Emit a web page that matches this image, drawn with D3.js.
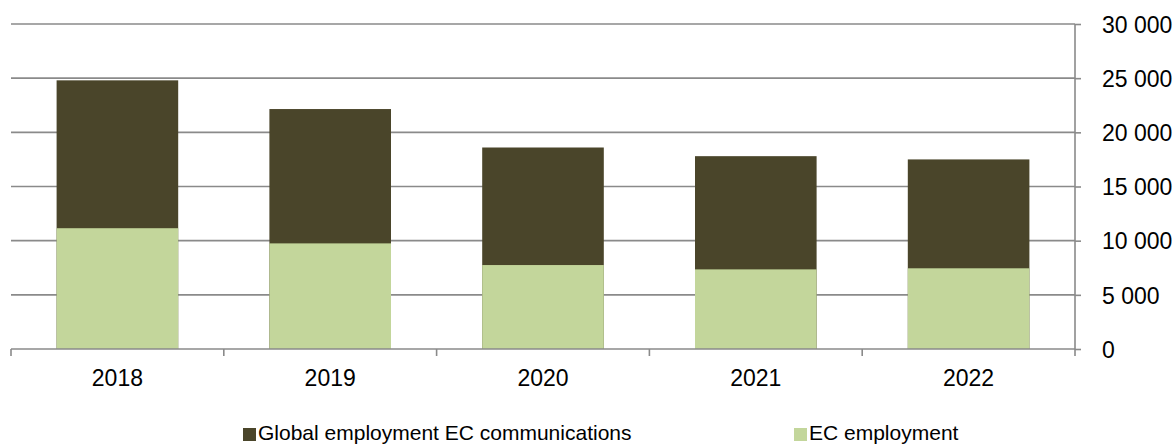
<!DOCTYPE html>
<html>
<head>
<meta charset="utf-8">
<script src="https://cdn.jsdelivr.net/npm/d3@7"></script>
<style>
  html, body { margin: 0; padding: 0; background: #fff; }
  svg { display: block; font-family: "Liberation Sans", Arial, sans-serif; }
</style>
</head>
<body>
<svg id="chart" width="1176" height="445"></svg>
<script>
// Employment figures per year
const years = ["2018", "2019", "2020", "2021", "2022"];
const globalEmployment = [24800, 22150, 18600, 17800, 17500];
const ecEmployment = [11150, 9750, 7750, 7350, 7450];
const yTicks = [0, 5000, 10000, 15000, 20000, 25000, 30000];
const seriesNames = ["Global employment EC communications", "EC employment"];
const seriesColors = ["#4A452A", "#C3D69B"];

(function draw() {
  const svg = d3.select("#chart");
  const plotLeft = 11, plotRight = 1075, plotTop = 24, plotBottom = 349;
  const gridColor = "#8a8a8a";

  const x = d3.scaleBand().domain(years).range([plotLeft, plotRight]).padding(0);
  const barW = x.bandwidth() / 1.75;
  const y = d3.scaleLinear().domain([0, 30000]).range([plotBottom, plotTop]);
  const fmt = v => d3.format(",")(v).replace(/,/g, " ");

  // Horizontal gridlines
  svg.append("g").selectAll("line").data(yTicks.filter(v => v > 0)).join("line")
    .attr("x1", plotLeft).attr("x2", plotRight)
    .attr("y1", d => y(d)).attr("y2", d => y(d))
    .attr("stroke", gridColor).attr("stroke-width", 1.6);

  // Bars: total drawn behind, EC share overlaid in front
  const rows = years.map((yr, i) => ({ yr, g: globalEmployment[i], ec: ecEmployment[i] }));
  svg.append("g").selectAll("rect").data(rows).join("rect")
    .attr("x", d => x(d.yr) + (x.bandwidth() - barW) / 2)
    .attr("width", barW)
    .attr("y", d => y(d.g))
    .attr("height", d => y(0) - y(d.g))
    .attr("fill", seriesColors[0]);
  svg.append("g").selectAll("rect").data(rows).join("rect")
    .attr("x", d => x(d.yr) + (x.bandwidth() - barW) / 2)
    .attr("width", barW)
    .attr("y", d => y(d.ec))
    .attr("height", d => y(0) - y(d.ec))
    .attr("fill", seriesColors[1]);

  // Right value axis
  const yAxis = svg.append("g").attr("transform", `translate(${plotRight},0)`)
    .call(d3.axisRight(y).tickValues(yTicks).tickFormat(fmt).tickSize(6).tickPadding(21));
  yAxis.select(".domain").attr("stroke", gridColor).attr("stroke-width", 1.6)
    .attr("d", `M0,${plotTop}V${plotBottom + 7}`);
  yAxis.selectAll(".tick line").attr("stroke", gridColor).attr("stroke-width", 1.6);
  yAxis.selectAll(".tick text").attr("fill", "#000").attr("font-size", 23)
    .attr("font-family", "Liberation Sans, Arial, sans-serif").attr("dy", "0.36em");

  // Category axis
  svg.append("line").attr("x1", plotLeft).attr("x2", plotRight)
    .attr("y1", plotBottom).attr("y2", plotBottom)
    .attr("stroke", gridColor).attr("stroke-width", 1.6);
  svg.append("g").selectAll("line").data(years).join("line")
    .attr("x1", d => x(d)).attr("x2", d => x(d))
    .attr("y1", plotBottom).attr("y2", plotBottom + 7)
    .attr("stroke", gridColor).attr("stroke-width", 1.6);
  svg.append("g").selectAll("text").data(years).join("text")
    .attr("x", d => x(d) + x.bandwidth() / 2)
    .attr("y", 386)
    .attr("text-anchor", "middle")
    .attr("font-size", 23)
    .attr("fill", "#000")
    .text(d => d);

  // Legend
  const legendX = [243, 794];
  const legend = svg.append("g").selectAll("g").data(seriesNames).join("g")
    .attr("transform", (d, i) => `translate(${legendX[i]},428)`);
  legend.append("rect").attr("width", 13).attr("height", 13)
    .attr("fill", (d, i) => seriesColors[i]);
  legend.append("text").attr("x", 15).attr("y", 12)
    .attr("font-size", 21).attr("fill", "#000")
    .text(d => d);
})();
</script>
</body>
</html>
